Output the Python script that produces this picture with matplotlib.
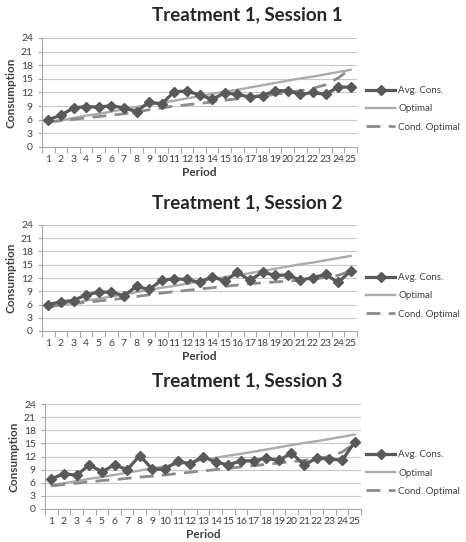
import matplotlib
matplotlib.use("Agg")
import matplotlib.pyplot as plt
import numpy as np

plt.rcParams['font.family'] = ['Lato', 'DejaVu Sans']

periods = list(range(1, 26))
titles = ["Treatment 1, Session 1", "Treatment 1, Session 2", "Treatment 1, Session 3"]

avg_cons = [
    [6.0, 7.0, 8.6, 8.9, 8.8, 9.1, 8.6, 7.8, 9.9, 9.5, 12.2, 12.3, 11.5,
     10.5, 11.9, 11.6, 11.0, 11.3, 12.4, 12.4, 11.6, 12.0, 11.6, 13.2, 13.2],
    [6.0, 6.6, 6.9, 8.2, 8.8, 8.8, 8.0, 10.1, 9.4, 11.5, 11.8, 11.7, 11.0,
     12.3, 11.3, 13.3, 11.5, 13.3, 12.6, 12.7, 11.5, 12.1, 12.8, 11.0, 13.6],
    [6.9, 8.05, 7.7, 10.1, 8.5, 10.1, 9.0, 12.2, 9.1, 9.1, 11.0, 10.3, 12.0,
     10.7, 10.1, 11.0, 11.0, 11.6, 11.1, 12.8, 10.1, 11.6, 11.5, 11.1, 15.3],
]

optimal = [5.4, 5.9, 6.4, 6.9, 7.3, 7.8, 8.3, 8.8, 9.3, 9.8, 10.2, 10.7, 11.2,
           11.7, 12.2, 12.6, 13.1, 13.6, 14.1, 14.6, 15.1, 15.5, 16.0, 16.5, 17.0]

cond_optimal = [
    [5.5, 5.8, 6.1, 6.4, 6.7, 7.0, 7.3, 7.7, 8.2, 8.6, 9.0, 9.3, 9.6,
     9.9, 10.3, 10.6, 10.9, 11.2, 11.6, 12.0, 12.4, 12.9, 13.7, 15.2, 17.2],
    [5.5, 5.9, 6.2, 6.5, 6.8, 7.1, 7.4, 7.8, 8.2, 8.6, 8.9, 9.2, 9.5,
     9.8, 10.1, 10.4, 10.7, 10.9, 11.1, 11.3, 11.5, 11.8, 12.1, 12.6, 13.6],
    [5.3, 5.6, 5.9, 6.2, 6.5, 6.7, 7.0, 7.3, 7.5, 7.8, 8.1, 8.4, 8.7,
     9.0, 9.3, 9.6, 9.9, 10.2, 10.5, 10.8, 11.1, 11.5, 12.0, 13.0, 15.0],
]

fig = plt.figure(figsize=(4.66, 5.42), dpi=100)

# axes rects in pixels: left, top, right, bottom
rects = [(42, 38, 357, 147), (42, 225, 357, 331), (45, 404, 361, 509)]
title_y = [15, 203, 381]
legend_y = [109, 296, 473]

W, H = 466, 542
for i in range(3):
    l, t, r, b = rects[i]
    ax = fig.add_axes([l / W, 1 - b / H, (r - l) / W, (b - t) / H])
    x = np.array(periods)
    ax.plot(x, optimal, color="#ababab", lw=1.7, label="Optimal", zorder=2)
    ax.plot(x, cond_optimal[i], color="#8c8c8c", lw=2.0, ls=(0, (5, 3)),
            label="Cond. Optimal", zorder=3)
    ax.plot(x, avg_cons[i], color="#595959", lw=2.3, marker="D", ms=5,
            label="Avg. Cons.", zorder=4)

    ax.set_xlim(0.5, 25.5)
    ax.set_ylim(0, 24)
    ax.set_yticks(range(0, 25, 3))
    ax.set_xticks(periods)
    ax.set_xticks(np.arange(0.5, 26, 1), minor=True)
    ax.tick_params(axis="x", which="major", length=0, pad=6, labelsize=7.5,
                   labelcolor="#404040")
    ax.tick_params(axis="x", which="minor", length=4, color="#a6a6a6", width=0.8)
    ax.tick_params(axis="y", length=3, color="#a6a6a6", width=0.8, labelsize=7.5,
                   labelcolor="#404040")
    ax.grid(axis="y", color="#c8c8c8", lw=0.8)
    ax.set_axisbelow(True)
    for s in ["top", "right"]:
        ax.spines[s].set_visible(False)
    for s in ["left", "bottom"]:
        ax.spines[s].set_color("#a6a6a6")
        ax.spines[s].set_linewidth(0.8)
    ax.set_ylabel("Consumption", fontsize=8.5, fontweight="bold", color="#404040", labelpad=3)
    ax.set_xlabel("Period", fontsize=8.5, fontweight="bold", color="#404040", labelpad=2)

    fig.text(247 / W, 1 - title_y[i] / H, titles[i], ha="center", va="center",
             fontsize=13.5, fontweight="bold", color="#262626")

    handles, labels = ax.get_legend_handles_labels()
    order = [2, 0, 1]
    leg = ax.legend([handles[k] for k in order], [labels[k] for k in order],
                    loc="center left", bbox_to_anchor=(366 / W, 1 - legend_y[i] / H),
                    bbox_transform=fig.transFigure, frameon=False, fontsize=7,
                    labelspacing=0.95, handlelength=3.0, handletextpad=0.3,
                    borderpad=0, borderaxespad=0)
    for txt in leg.get_texts():
        txt.set_color("#404040")

fig.savefig("out.png", dpi=100)
